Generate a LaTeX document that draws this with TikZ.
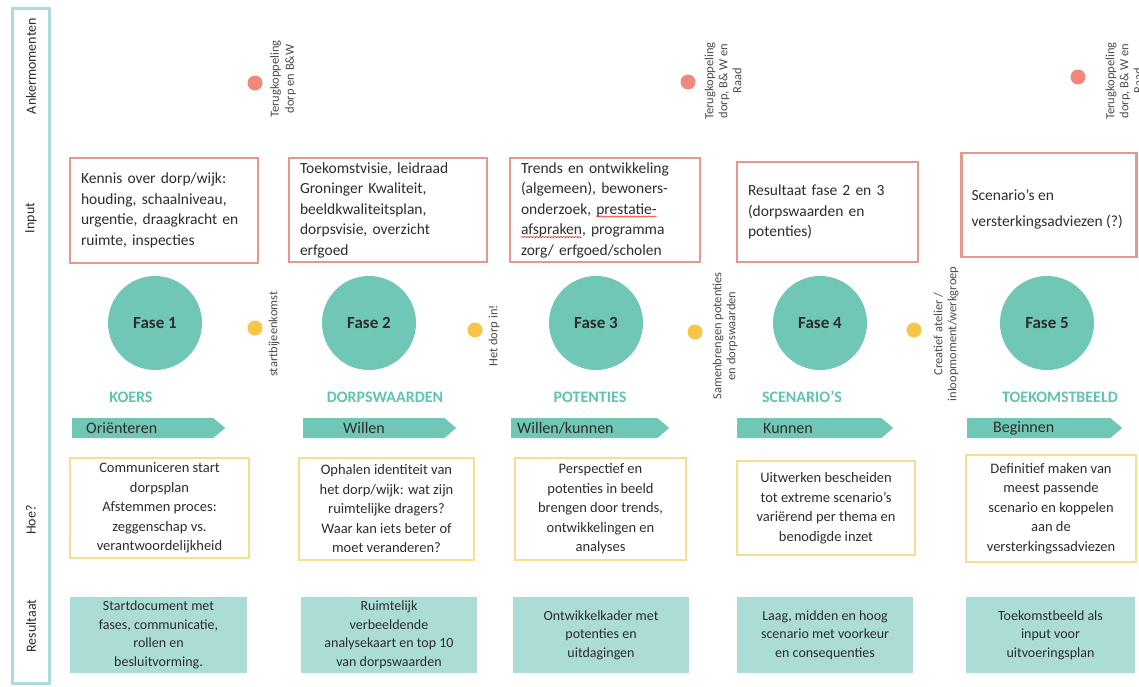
\documentclass[tikz,border=0pt]{standalone}
\usepackage{fontspec}
\setmainfont{Carlito}
\usetikzlibrary{shapes.symbols,decorations.pathmorphing}

\definecolor{fasegroen}{RGB}{112,199,182}
\definecolor{kopgroen}{RGB}{96,196,176}
\definecolor{resgroen}{RGB}{172,220,214}
\definecolor{inrood}{RGB}{228,152,142}
\definecolor{hoegeel}{RGB}{246,222,142}
\definecolor{ankerrood}{RGB}{240,136,126}
\definecolor{momentgeel}{RGB}{247,197,72}
\definecolor{zijrand}{RGB}{172,219,219}
\definecolor{tekst}{RGB}{45,45,45}

% rode golflijn onder een woord
\newlength\golfbreedte
\newcommand\golf[1]{\leavevmode\settowidth\golfbreedte{#1}%
  \rlap{\tikz[overlay]\draw[red, line width=0.5pt, decorate,
    decoration={snake, amplitude=0.6pt, segment length=3pt}]
    (0pt,-2.5pt) -- (\golfbreedte,-2.5pt);}#1}

\begin{document}
\begin{tikzpicture}[x=1pt, y=-1pt,
    invoer/.style={draw=inrood, line width=2.4pt, align=left, inner xsep=11pt,
      font=\fontsize{15.5}{20.5}\selectfont, text=tekst},
    hoe/.style={draw=hoegeel, line width=2.4pt, align=center, inner sep=2pt,
      font=\fontsize{14.5}{19.5}\selectfont, text=tekst},
    resultaat/.style={fill=resgroen, align=center, inner sep=2pt,
      font=\fontsize{14}{18.5}\selectfont, text=tekst},
    fase/.style={circle, fill=fasegroen, minimum size=94pt, inner sep=0pt,
      font=\fontsize{17}{20}\selectfont\bfseries, text=tekst},
    kop/.style={font=\fontsize{16}{18}\selectfont\bfseries, text=kopgroen},
    pijl/.style={signal, signal to=east, signal pointer angle=80, anchor=west,
      fill=fasegroen, minimum height=20pt, inner sep=0pt},
    pijltekst/.style={anchor=west, inner sep=0pt,
      font=\fontsize{16}{18}\selectfont, text=tekst},
    stip/.style={circle, fill=#1, minimum size=15pt, inner sep=0pt},
    staand/.style={rotate=90, align=center, inner sep=0pt,
      font=\fontsize{12.5}{14}\selectfont, text=tekst!85},
    zijlabel/.style={rotate=90, inner sep=0pt,
      font=\fontsize{14}{16}\selectfont, text=tekst},
  ]
  \fill[white] (0,0) rectangle (1139,686);
  \useasboundingbox (0,0) rectangle (1139,686);

  % 左边的标签栏
  \node[draw=zijrand, line width=3pt, minimum width=37pt, minimum height=675pt,
    inner sep=0pt] (zijbalk) at (30.5,345.5) {};
  \node[zijlabel] (l-anker) at (31,66) {Ankermomenten};
  \node[zijlabel] (l-input) at (31,218) {Input};
  \node[zijlabel] (l-hoe) at (31,520) {Hoe?};
  \node[zijlabel] (l-res) at (31,626) {Resultaat};

  % 上方的 ankermomenten
  \node[stip=ankerrood] (a1) at (255,83) {};
  \node[stip=ankerrood] (a2) at (688,82) {};
  \node[stip=ankerrood] (a3) at (1078,77) {};
  \node[staand, font=\fontsize{12.5}{15}\selectfont] (a1t) at (283,79) {Terugkoppeling\\dorp en B\&W};
  \node[staand] (a2t) at (723,81) {Terugkoppeling\\dorp, B\& W en\\Raad};
  \node[staand] (a3t) at (1124,81) {Terugkoppeling\\dorp, B\& W en\\Raad};

  % input
  \node[invoer, text width=166pt, minimum height=105pt] (in1) at (164,210.5)
    {Kennis over dorp/wijk:\\houding, schaalniveau,\\urgentie, draagkracht en\\ruimte, inspecties};
  \node[invoer, text width=176pt, minimum height=104pt] (in2) at (388,210)
    {Toekomstvisie, leidraad\\Groninger Kwaliteit,\\beeldkwaliteitsplan,\\dorpsvisie, overzicht\\erfgoed};
  \node[invoer, text width=168pt, minimum height=104pt] (in3) at (605,210)
    {Trends en ontwikkeling\\(algemeen), bewoners-\\onderzoek, \golf{prestatie-}\\\golf{afspraken}, programma\\zorg/ erfgoed/scholen};
  \node[invoer, text width=159pt, minimum height=100pt] (in4) at (827.5,212)
    {Resultaat fase 2 en 3\\(dorpswaarden en\\potenties)};
  \node[invoer, minimum width=175pt, minimum height=104pt] (in5) at (1049,205) {};
  \node[anchor=west, align=left, inner sep=0pt, text=tekst,
    font=\fontsize{15.5}{26}\selectfont] (in5t) at ([xshift=11pt, yshift=-4pt]in5.west)
    {Scenario’s en\\versterkingsadviezen (?)};

  % fasen en momenten
  \foreach \i/\cx/\naam/\nx in {1/155/KOERS/131, 2/369/DORPSWAARDEN/385,
      3/596/POTENTIES/590, 4/820/SCENARIO’S/802, 5/1047/TOEKOMSTBEELD/1060} {
    \node[fase] (f\i) at (\cx,323) {Fase \i};
    \node[kop] (k\i) at (\nx,397) {\naam};
  }
  \foreach \i/\mx/\my in {1/255/328, 2/475/330, 3/695/332, 4/914/330}
    \node[stip=momentgeel] (m\i) at (\mx,\my) {};
  \node[staand] (m1t) at (274,334) {startbijeenkomst};
  \node[staand] (m2t) at (494,336) {Het dorp in!};
  \node[staand] (m3t) at (725,336)
    {Samenbrengen potenties\\en dorpswaarden};
  \node[staand] (m4t) at (946,334)
    {Creatief atelier /\\inloopmoment/werkgroep};

  % pijlen
  \foreach \i/\xa/\xb/\dx/\woord in {1/72/225/14/Oriënteren, 2/303/456/40/Willen,
      3/511/669/6/{Willen/kunnen}, 4/737/893/26/Kunnen, 5/967/1122/26/Beginnen} {
    \pgfmathsetmacro\bw{\xb-\xa}
    \node[pijl, minimum width=\bw pt] (p\i) at (\xa,428) {};
    \node[pijltekst] (p\i t) at ([xshift=\dx pt]p\i.west) {\woord};
  }

  % hoe?
  \node[hoe, minimum width=179pt, minimum height=100pt] (hoe1) at (159.5,508)
    {Communiceren start\\dorpsplan\\Afstemmen proces:\\zeggenschap vs.\\verantwoordelijkheid};
  \node[hoe, minimum width=175pt, minimum height=102pt] (hoe2) at (386.5,509)
    {Ophalen identiteit van\\het dorp/wijk: wat zijn\\ruimtelijke dragers?\\Waar kan iets beter of\\moet veranderen?};
  \node[hoe, minimum width=171pt, minimum height=102pt] (hoe3) at (600.5,509)
    {Perspectief en\\potenties in beeld\\brengen door trends,\\ontwikkelingen en\\analyses};
  \node[hoe, minimum width=178pt, minimum height=94pt] (hoe4) at (826,508)
    {Uitwerken bescheiden\\tot extreme scenario’s\\variërend per thema en\\benodigde inzet};
  \node[hoe, minimum width=170pt, minimum height=107pt] (hoe5) at (1051,508.5)
    {Definitief maken van\\meest passende\\scenario en koppelen\\aan de\\versterkingssadviezen};

  % resultaat
  \node[resultaat, minimum width=177pt, minimum height=76pt] (res1) at (158.5,635)
    {Startdocument met\\fases, communicatie,\\rollen en\\besluitvorming.};
  \node[resultaat, minimum width=176pt, minimum height=76pt] (res2) at (389,635)
    {Ruimtelijk\\verbeeldende\\analysekaart en top 10\\van dorpswaarden};
  \node[resultaat, minimum width=176pt, minimum height=76pt] (res3) at (601,635)
    {Ontwikkelkader met\\potenties en\\uitdagingen};
  \node[resultaat, minimum width=176pt, minimum height=76pt] (res4) at (825,635)
    {Laag, midden en hoog\\scenario met voorkeur\\en consequenties};
  \node[resultaat, minimum width=169pt, minimum height=76pt] (res5) at (1050.5,635)
    {Toekomstbeeld als\\input voor\\uitvoeringsplan};
\end{tikzpicture}
\end{document}
